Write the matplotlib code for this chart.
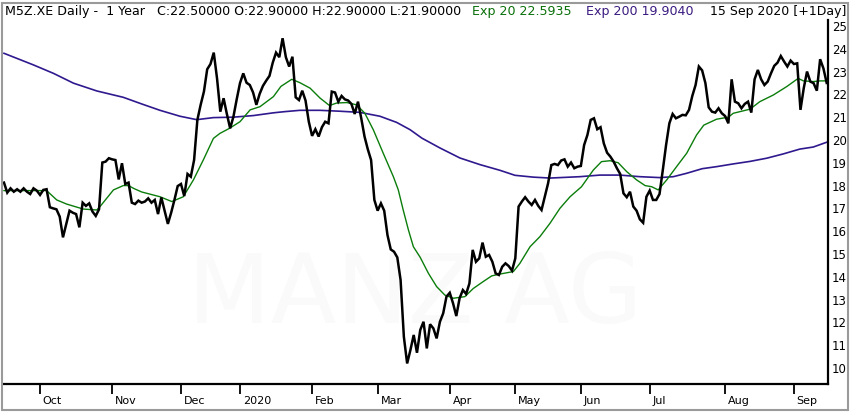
import numpy as np
import matplotlib
matplotlib.use("Agg")
import matplotlib.pyplot as plt
from matplotlib.patches import Rectangle
from matplotlib.transforms import ScaledTranslation

# daily closes, M5Z.XE, 16 Sep 2019 - 15 Sep 2020 (one list per month)
sep19 = [18.13, 17.69, 17.88, 17.73, 17.84, 17.73, 17.88, 17.73, 17.63, 17.88, 17.78]
oct19 = [17.59, 17.81, 17.84, 17.05, 17.00, 16.96, 16.64, 15.73, 16.32, 16.90, 16.81,
         16.75, 16.17, 17.25, 17.11, 17.22, 16.86, 16.67, 16.96, 19.01, 19.05, 19.20]
nov19 = [19.15, 19.12, 18.27, 18.98, 18.07, 18.13, 17.25, 17.19, 17.34, 17.25, 17.30,
         17.44, 17.25, 17.37, 16.75, 17.48, 16.90, 16.32, 16.81, 17.37, 17.98]
dec19 = [18.07, 17.54, 18.51, 18.39, 19.12, 20.88, 21.54, 22.12, 23.10, 23.33, 23.83,
         22.70, 21.24, 21.83, 21.14, 20.51, 21.02, 21.78]
jan20 = [22.49, 22.92, 22.51, 22.41, 22.08, 21.54, 22.02, 22.37, 22.60, 22.81, 23.39,
         23.83, 23.63, 24.46, 23.63, 23.22, 23.65, 21.87, 21.75, 22.16, 21.73, 20.80]
feb20 = [20.18, 20.47, 20.15, 20.56, 20.80, 20.73, 22.12, 22.08, 21.68, 21.93, 21.78,
         21.73, 21.58, 21.14, 21.68, 20.95, 20.15, 19.59, 19.12, 17.37]
mar20 = [16.90, 17.22, 16.90, 15.83, 15.20, 15.10, 14.85, 13.86, 11.37, 10.20, 10.79,
         11.45, 10.67, 11.67, 12.03, 10.86, 11.92, 11.74, 11.30, 12.03, 12.40, 13.13]
apr20 = [13.30, 12.84, 12.28, 13.06, 13.42, 13.25, 13.71, 15.18, 14.66, 14.81, 15.50,
         14.88, 14.96, 14.66, 14.15, 14.08, 14.44, 14.59, 14.47, 14.27]
may20 = [14.81, 17.08, 17.30, 17.49, 17.30, 17.15, 17.37, 17.11, 16.93, 17.51, 18.10,
         18.90, 18.95, 18.90, 19.10, 19.15, 18.83, 19.01, 18.76, 18.83]
jun20 = [18.86, 19.78, 20.22, 20.88, 20.95, 20.47, 20.56, 19.85, 19.44, 19.27, 19.05,
         18.76, 18.51, 17.66, 17.49, 17.73, 17.08, 16.90, 16.52, 16.37, 17.51]
jul20 = [17.78, 17.37, 17.37, 17.63, 18.68, 19.78, 20.73, 21.14, 20.95, 21.02, 21.10,
         21.08, 21.32, 21.93, 22.41, 23.22, 23.05, 22.49, 21.43, 21.24, 21.20, 21.39, 21.17]
aug20 = [21.05, 20.73, 22.66, 21.68, 21.61, 21.39, 21.58, 21.68, 21.20, 22.66, 23.07,
         22.66, 22.41, 22.56, 22.92, 23.25, 23.39, 23.68, 23.44, 23.22, 23.48]
sep20 = [23.33, 23.36, 21.32, 22.27, 23.00, 22.56, 22.49, 22.16, 23.54, 23.14, 22.50]

months = [sep19, oct19, nov19, dec19, jan20, feb20, mar20, apr20, may20, jun20, jul20, aug20, sep20]
month_labels = ["Oct", "Nov", "Dec", "2020", "Feb", "Mar", "Apr", "May", "Jun", "Jul", "Aug", "Sep"]

ema20_day = [0, 13, 16.1, 19.1, 24.2, 28.3, 29.3, 33.4, 36.4, 38, 39.5, 42, 47.6, 51.2, 54.7,
             57.8, 60.8, 63.9, 65.9, 68.8, 72, 75.1, 78.1, 82.2, 84.5, 87.8, 90.3, 93.4, 96.4,
             99.3, 101.5, 104.6, 107.6, 110.1, 112.7, 115.7, 118.8, 120.3, 121.8, 123.4, 124.9,
             127, 129.5, 132, 134.5, 137.1, 140.6, 143.2, 146.2, 148.8, 151.3, 155.4, 157.4,
             160.5, 163.5, 166.6, 169.6, 172.7, 176.2, 179.8, 182.3, 184.9, 187.4, 190, 193,
             195.6, 197.6, 199.6, 202.2, 205.2, 208.3, 211.3, 213.5, 217.4, 221, 222.5, 227.6,
             230.6, 234.7, 238.8, 242.3, 243.9, 246.9, 249, 251]
ema20 = [17.78, 17.78, 17.37, 17.19, 16.97, 16.93, 17.08, 17.81, 18.0, 18.0, 17.88, 17.72,
         17.51, 17.30, 17.51, 18.25, 19.12, 20.07, 20.29, 20.51, 20.80, 21.32, 21.46, 21.90,
         22.35, 22.66, 22.51, 22.27, 21.84, 21.51, 21.62, 21.64, 21.54, 21.17, 20.44, 19.42,
         18.39, 17.81, 16.93, 16.05, 15.32, 14.85, 14.15, 13.57, 13.20, 13.06, 13.13, 13.49,
         13.79, 14.04, 14.12, 14.23, 14.59, 15.32, 15.76, 16.35, 17.0, 17.51, 17.95, 18.68,
         19.05, 19.09, 19.0, 18.61, 18.25, 18.0, 17.95, 17.81, 18.25, 18.83, 19.42, 20.22,
         20.65, 20.91, 21.0, 21.17, 21.35, 21.68, 21.97, 22.34, 22.70, 22.59, 22.56, 22.59, 22.59]

ema200_day = [0, 9, 15.1, 21.2, 28.3, 36.4, 42, 47.6, 53.7, 58.8, 63.9, 70, 76.1, 82.2, 85.5,
              90.3, 96.4, 102.5, 108.6, 114.7, 119.8, 123.9, 127.5, 133, 139.1, 145.2, 151.3,
              155.9, 161.5, 166.6, 171.2, 175.7, 181.8, 187.9, 194, 200.1, 204.2, 208.3, 213,
              217.4, 222.5, 227.6, 232.7, 237.8, 242.8, 246.9, 251]
ema200 = [23.80, 23.29, 22.92, 22.49, 22.15, 21.87, 21.58, 21.30, 21.04, 20.89, 20.98, 21.0,
          21.07, 21.19, 21.24, 21.30, 21.30, 21.26, 21.21, 21.04, 20.77, 20.45, 20.08, 19.65,
          19.21, 18.92, 18.67, 18.45, 18.37, 18.33, 18.36, 18.39, 18.46, 18.46, 18.39, 18.35,
          18.39, 18.54, 18.74, 18.83, 18.95, 19.06, 19.20, 19.39, 19.60, 19.69, 19.90]

close = np.concatenate(months)
days = np.arange(len(close))
month_start = np.cumsum([len(m) for m in months])[:-1]

W, H = 850, 412
fig = plt.figure(figsize=(W / 100, H / 100), dpi=100)
fig.patch.set_facecolor("white")

ax = fig.add_axes([3 / W, 28 / H, 825 / W, 364 / H])

# watermark, barely visible
ax.text(0.50, 0.24, "MANZ AG", transform=ax.transAxes, ha="center", va="center",
        fontsize=69, color="#fafafa", zorder=0)

ax.plot(ema200_day, ema200, color="#30198e", lw=1.2, zorder=2)
ax.plot(ema20_day, ema20, color="#0b7d0b", lw=1.0, zorder=3)
ax.plot(days, close, color="black", lw=1.8, solid_joinstyle="miter", zorder=4)

ax.set_xlim(-0.3, 251.4)
ax.set_ylim(9.30, 25.26)

for s in ["top", "left"]:
    ax.spines[s].set_visible(False)
for s in ["bottom", "right"]:
    ax.spines[s].set_linewidth(1.6)
    ax.spines[s].set_color("black")

ax.yaxis.tick_right()
ax.set_yticks(range(10, 26))
ax.tick_params(axis="y", length=0, pad=3, labelsize=8.5, colors="black")

ax.set_xticks(month_start)
ax.set_xticklabels(month_labels)
ax.tick_params(axis="x", direction="out", length=7, width=1.3, pad=2, labelsize=8)
shift = ScaledTranslation(2 / 72, 0, fig.dpi_scale_trans)
for lab in ax.get_xticklabels():
    lab.set_horizontalalignment("left")
    lab.set_transform(lab.get_transform() + shift)

# header line
hy = 1 - 11 / H
fig.text(5 / W, hy, "M5Z.XE Daily -  1 Year   C:22.50000 O:22.90000 H:22.90000 L:21.90000",
         fontsize=9.1, va="center", ha="left", color="black")
fig.text(472 / W, hy, "Exp 20 22.5935", fontsize=9.1, va="center", ha="left", color="#0a700a")
fig.text(586 / W, hy, "Exp 200 19.9040", fontsize=9.1, va="center", ha="left", color="#3a1a80")
fig.text(846 / W, hy, "15 Sep 2020 [+1Day]", fontsize=9, va="center", ha="right", color="black")

# outer frame
fig.patches.append(Rectangle((1.5 / W, 2 / H), 846 / W, 407 / H, transform=fig.transFigure,
                             fill=False, edgecolor="#9a9a9a", lw=1.5))

fig.savefig("out.png", dpi=100)
